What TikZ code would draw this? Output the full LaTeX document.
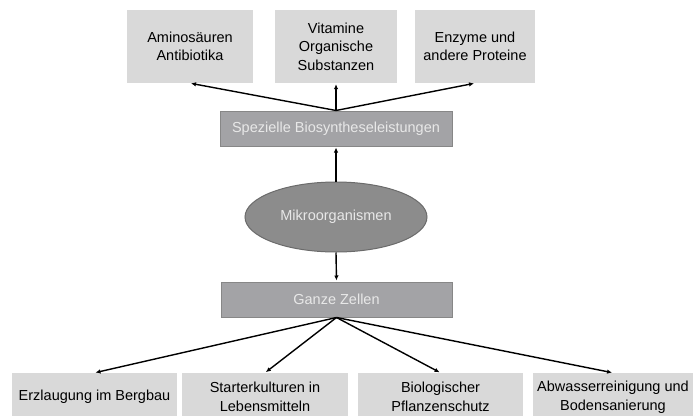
\documentclass[tikz,border=0pt]{standalone}
\usepackage{fontspec}
\setmainfont{Liberation Sans}
\usetikzlibrary{arrows.meta,shapes.geometric}
\definecolor{boxlight}{HTML}{D9D9D9}
\definecolor{boxmid}{HTML}{A3A3A6}
\definecolor{boxmidline}{HTML}{878787}
\definecolor{ellfill}{HTML}{8C8C8C}
\definecolor{ellline}{HTML}{6B6B6B}
\definecolor{lighttext}{HTML}{E8E8E8}
\tikzset{
  leaf/.style={fill=boxlight, draw=none, align=center, inner sep=0pt,
    font=\fontsize{14.5}{18.5}\selectfont, text=black},
  band/.style={fill=boxmid, draw=boxmidline, line width=1pt, inner sep=0pt,
    minimum width=232pt, minimum height=35pt,
    font=\fontsize{14.5}{18}\selectfont, text=lighttext},
  core/.style={ellipse, fill=ellfill, draw=ellline, line width=1pt, inner sep=0pt,
    minimum width=182pt, minimum height=70pt,
    font=\fontsize{14.5}{18}\selectfont, text=lighttext},
  link/.style={line width=1.4pt, -{Latex[length=5pt,width=4.5pt]}, shorten >=1pt}
}
\begin{document}
\begin{tikzpicture}[x=1pt, y=-1pt]
  \fill[white] (0,0) rectangle (693,415);
  \useasboundingbox (0,0) rectangle (693,415);
  \clip (0,0) rectangle (693,415);

  % products of the biosynthesis
  \node[leaf, minimum width=126pt, minimum height=73pt] (amino) at (190,46.5) {Aminosäuren\\Antibiotika};
  \node[leaf, minimum width=122pt, minimum height=73pt] (vit) at (336,46.5) {Vitamine\\Organische\\Substanzen};
  \node[leaf, minimum width=120pt, minimum height=73pt] (enz) at (475,46.5) {Enzyme und\\andere Proteine};

  % central chain
  \node[band] (bio) at (336,128.5) {Spezielle Biosyntheseleistungen};
  \node[core] (mo) at (336,217) {Mikroorganismen};
  \node[band, minimum width=231pt] (cells) at (336.5,299.5) {Ganze Zellen};

  % applications of whole cells
  \node[leaf, minimum width=165pt, minimum height=48pt] (erz) at (94.5,397) {Erzlaugung im Bergbau};
  \node[leaf, minimum width=166pt, minimum height=48pt] (start) at (265,397) {Starterkulturen in\\Lebensmitteln};
  \node[leaf, minimum width=165pt, minimum height=48pt] (pflanz) at (440.5,397) {Biologischer\\Pflanzenschutz};
  \node[leaf, minimum width=160pt, minimum height=48pt] (abw) at (613,397) {Abwasserreinigung und\\Bodensanierung};

  % connectors
  \draw[link] (mo.north) -- (bio.south);
  \draw[link] (mo.south) -- (cells.north);
  \draw[link] (bio.north) -- (amino.south);
  \draw[link] (bio.north) -- (vit.south);
  \draw[link] (bio.north) -- (enz.south);
  \draw[link] (cells.south) -- (erz.north);
  \draw[link] (cells.south) -- (start.north);
  \draw[link] (cells.south) -- (pflanz.north);
  \draw[link] (cells.south) -- (abw.north);
\end{tikzpicture}
\end{document}
